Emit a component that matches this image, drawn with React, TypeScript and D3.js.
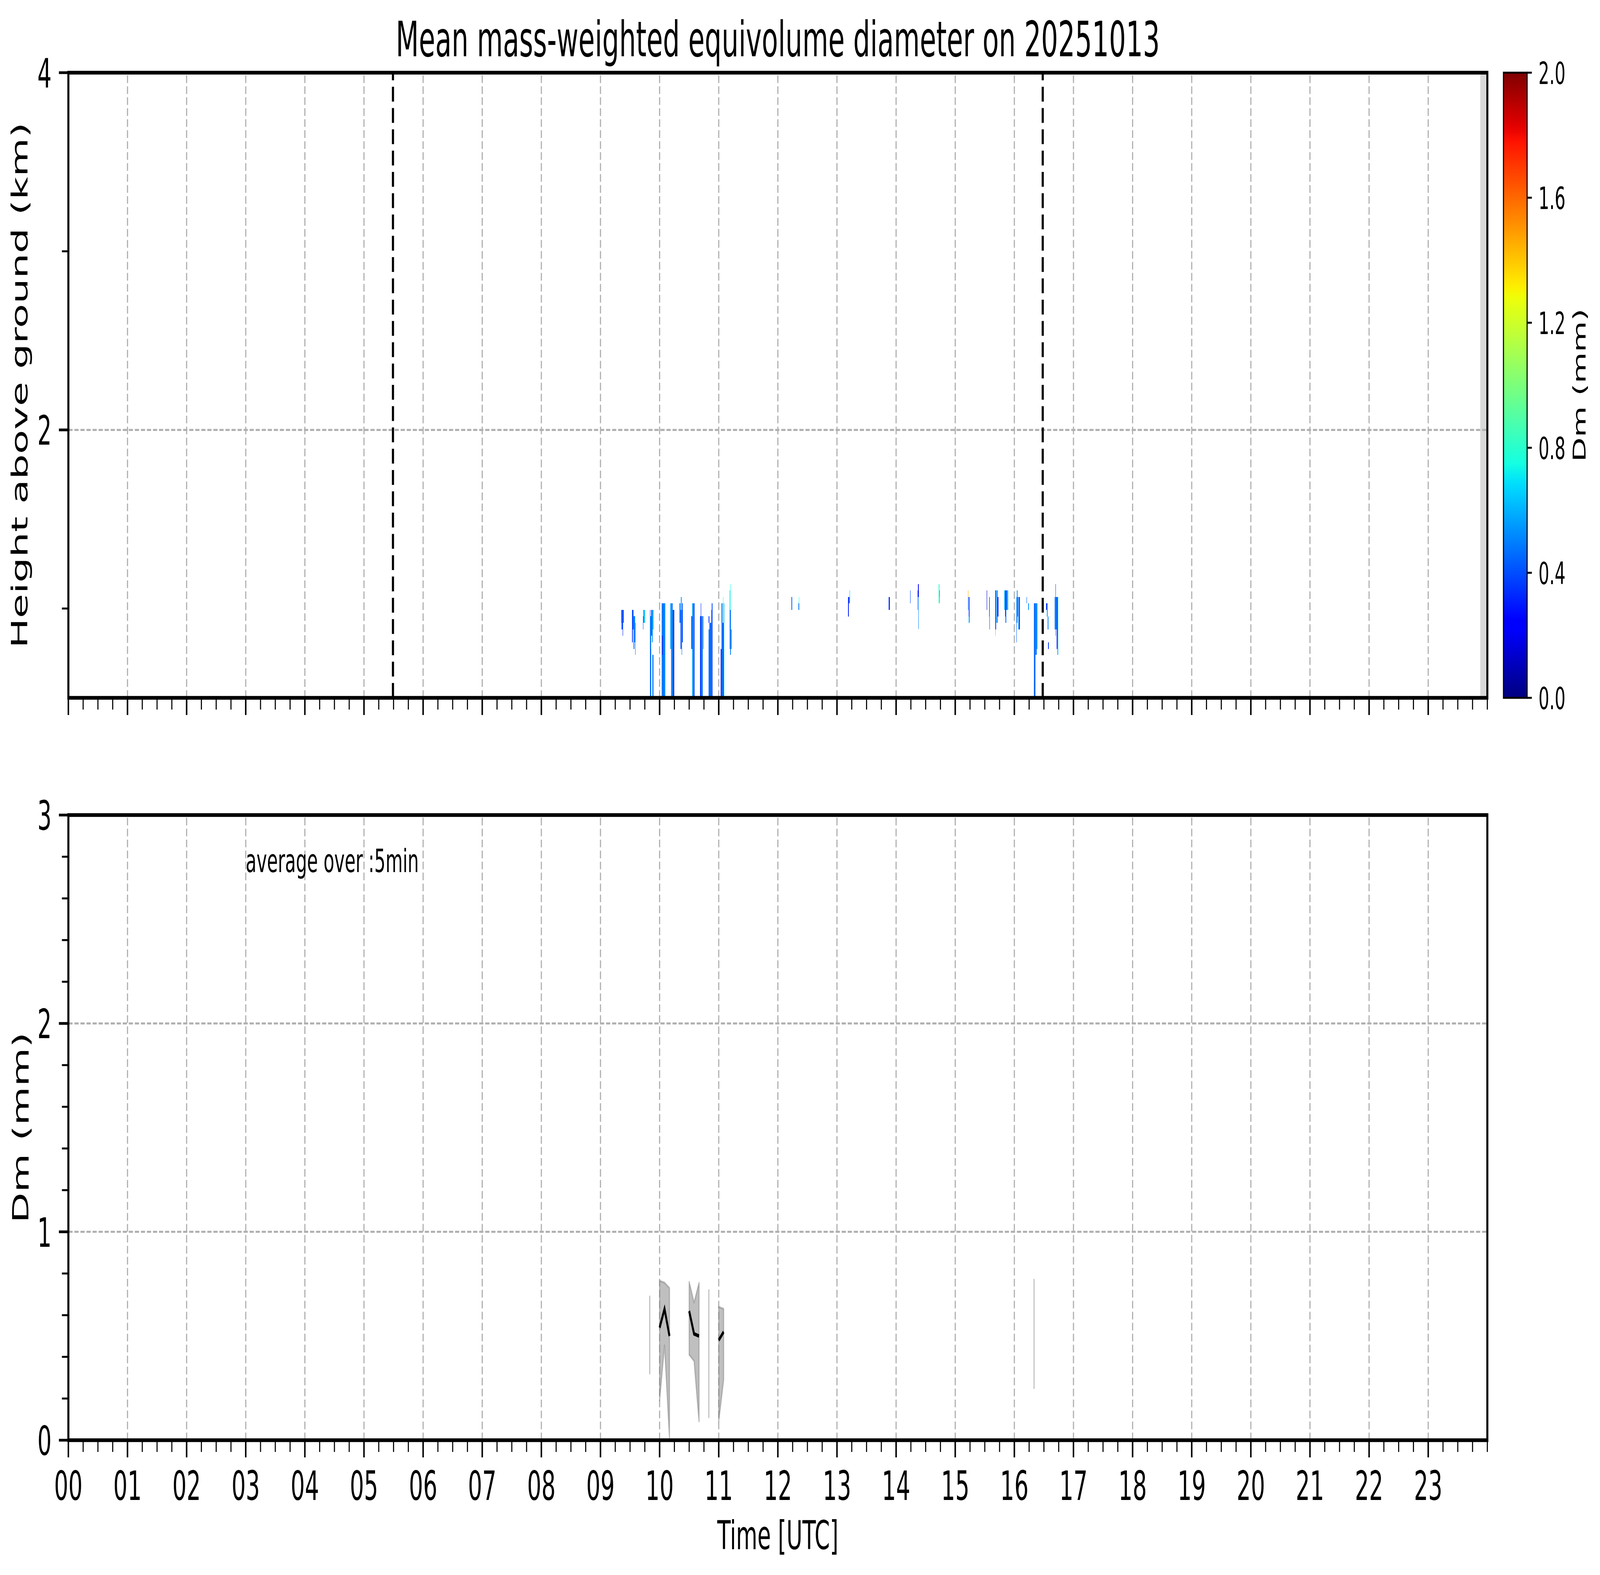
import React, { useEffect } from 'react';
import * as d3 from 'd3';

// ---------------- data ----------------
const TITLE = 'Mean mass-weighted equivolume diameter on 20251013';
const hourTicks = [0, 1, 2, 3, 4, 5, 6, 7, 8, 9, 10, 11, 12, 13, 14, 15, 16, 17, 18, 19, 20, 21, 22, 23];
const hourLabels = ['00', '01', '02', '03', '04', '05', '06', '07', '08', '09', '10', '11', '12', '13', '14', '15', '16', '17', '18', '19', '20', '21', '22', '23'];
const heightMajor = [2, 4];
const heightMinor = [1, 3];
const dmMajor = [0, 1, 2, 3];
const cbTicks = [0, 0.4, 0.8, 1.2, 1.6, 2.0];
const cbLabels = ['0.0', '0.4', '0.8', '1.2', '1.6', '2.0'];
const sunLines = [5.49, 16.48];
const missingBand = [23.88, 24];

// radar Dm cells: [t0 (h UTC), t1 (h UTC), bottom (km), top (km), Dm (mm)]
const radarCells: number[][] = [
  [8.870, 8.876, 0.883, 0.919, 0.50],
  [9.350, 9.358, 0.919, 0.992, 0.62],
  [9.358, 9.372, 0.883, 0.992, 0.45],
  [9.372, 9.380, 0.847, 0.992, 0.30],
  [9.380, 9.395, 0.919, 0.992, 0.50],
  [9.536, 9.548, 0.811, 0.992, 0.35],
  [9.548, 9.560, 0.883, 0.992, 0.50],
  [9.560, 9.572, 0.774, 0.957, 0.45],
  [9.572, 9.585, 0.811, 0.957, 0.55],
  [9.585, 9.595, 0.740, 0.919, 0.50],
  [9.716, 9.726, 0.883, 0.957, 0.45],
  [9.726, 9.740, 0.919, 0.992, 0.55],
  [9.740, 9.749, 0.919, 0.992, 0.65],
  [9.835, 9.846, 0.774, 0.992, 0.35],
  [9.846, 9.858, 0.774, 0.957, 0.55],
  [9.836, 9.858, 0.503, 0.774, 0.45],
  [9.858, 9.870, 0.847, 0.992, 0.42],
  [9.870, 9.884, 0.811, 0.992, 0.55],
  [9.884, 9.898, 0.883, 0.992, 0.62],
  [9.880, 9.898, 0.503, 0.740, 0.50],
  [9.889, 9.892, 0.740, 0.811, 0.15],
  [10.034, 10.044, 0.503, 1.029, 0.40],
  [10.044, 10.054, 0.503, 1.029, 0.55],
  [10.054, 10.064, 0.503, 1.029, 0.35],
  [10.064, 10.074, 0.503, 1.029, 0.50],
  [10.074, 10.084, 0.503, 1.029, 0.62],
  [10.084, 10.095, 0.503, 1.029, 0.45],
  [10.040, 10.048, 0.740, 0.847, 0.25],
  [10.183, 10.192, 0.774, 1.029, 0.58],
  [10.192, 10.202, 0.503, 1.029, 0.45],
  [10.202, 10.212, 0.503, 1.029, 0.60],
  [10.212, 10.222, 0.503, 1.029, 0.35],
  [10.222, 10.232, 0.503, 0.992, 0.50],
  [10.232, 10.244, 0.503, 0.992, 0.30],
  [10.332, 10.345, 0.919, 1.029, 0.62],
  [10.345, 10.352, 0.919, 1.029, 0.45],
  [10.352, 10.362, 0.774, 0.992, 0.35],
  [10.362, 10.372, 0.774, 1.064, 0.55],
  [10.372, 10.382, 0.740, 0.992, 0.45],
  [10.382, 10.393, 0.811, 1.029, 0.40],
  [10.535, 10.548, 0.774, 0.957, 0.30],
  [10.548, 10.560, 0.503, 1.029, 0.50],
  [10.560, 10.572, 0.503, 1.029, 0.60],
  [10.572, 10.582, 0.503, 1.029, 0.45],
  [10.582, 10.592, 0.503, 1.029, 0.35],
  [10.684, 10.694, 0.503, 0.957, 0.40],
  [10.694, 10.704, 0.503, 1.029, 0.30],
  [10.704, 10.716, 0.503, 0.957, 0.55],
  [10.716, 10.730, 0.503, 0.957, 0.45],
  [10.736, 10.744, 0.774, 0.957, 0.40],
  [10.829, 10.840, 0.503, 0.883, 0.45],
  [10.829, 10.840, 0.919, 0.957, 0.35],
  [10.840, 10.850, 0.503, 0.919, 0.60],
  [10.850, 10.862, 0.503, 0.919, 0.35],
  [10.862, 10.874, 0.503, 0.919, 0.55],
  [10.874, 10.884, 0.503, 0.992, 0.45],
  [10.884, 10.895, 0.503, 1.029, 0.38],
  [11.031, 11.044, 0.503, 0.774, 0.30],
  [11.044, 11.056, 0.503, 1.029, 0.45],
  [11.056, 11.068, 0.503, 1.029, 0.55],
  [11.068, 11.080, 0.503, 0.919, 0.35],
  [11.080, 11.095, 0.503, 1.029, 0.62],
  [11.074, 11.076, 1.029, 1.064, 0.85],
  [11.183, 11.195, 0.774, 0.992, 0.45],
  [11.195, 11.205, 0.740, 0.992, 0.50],
  [11.205, 11.217, 0.774, 0.883, 0.55],
  [11.186, 11.190, 0.992, 1.101, 0.65],
  [11.193, 11.197, 0.992, 1.137, 0.75],
  [12.232, 12.240, 0.992, 1.064, 0.45],
  [12.350, 12.356, 0.992, 1.029, 0.50],
  [12.356, 12.362, 1.029, 1.064, 0.78],
  [12.356, 12.362, 0.992, 1.029, 0.45],
  [13.185, 13.200, 0.956, 1.064, 0.30],
  [13.185, 13.190, 0.884, 0.956, 0.50],
  [13.200, 13.212, 1.029, 1.064, 0.50],
  [13.212, 13.222, 1.029, 1.101, 0.65],
  [13.873, 13.893, 0.992, 1.064, 0.35],
  [14.238, 14.242, 1.029, 1.101, 0.40],
  [14.360, 14.372, 0.992, 1.101, 0.45],
  [14.360, 14.366, 0.992, 1.029, 0.68],
  [14.372, 14.380, 1.064, 1.137, 0.20],
  [14.376, 14.380, 0.884, 1.064, 0.50],
  [14.720, 14.730, 1.029, 1.137, 0.80],
  [14.730, 14.740, 1.064, 1.101, 0.55],
  [14.730, 14.740, 1.029, 1.064, 0.72],
  [15.213, 15.222, 0.992, 1.064, 0.45],
  [15.213, 15.219, 1.064, 1.101, 1.45],
  [15.231, 15.243, 0.919, 1.064, 0.35],
  [15.231, 15.236, 0.919, 0.956, 0.65],
  [15.533, 15.537, 0.992, 1.101, 0.12],
  [15.574, 15.585, 0.956, 1.064, 0.55],
  [15.582, 15.586, 0.883, 0.956, 0.40],
  [15.680, 15.690, 0.883, 1.101, 0.35],
  [15.681, 15.684, 0.847, 0.883, 0.75],
  [15.690, 15.700, 0.919, 1.101, 0.60],
  [15.707, 15.720, 0.919, 1.101, 0.45],
  [15.720, 15.730, 0.956, 1.064, 0.30],
  [15.722, 15.725, 1.064, 1.137, 0.55],
  [15.831, 15.842, 0.992, 1.101, 0.60],
  [15.842, 15.852, 0.956, 1.101, 0.35],
  [15.852, 15.862, 0.919, 1.101, 0.45],
  [15.862, 15.872, 0.992, 1.101, 0.30],
  [15.872, 15.894, 0.992, 1.101, 0.62],
  [16.034, 16.044, 0.811, 1.064, 0.45],
  [16.044, 16.052, 0.919, 1.101, 0.55],
  [16.052, 16.062, 0.956, 1.064, 0.30],
  [16.067, 16.080, 0.883, 1.064, 0.50],
  [16.080, 16.094, 0.883, 1.064, 0.40],
  [16.092, 16.094, 0.774, 0.883, 0.70],
  [16.205, 16.210, 1.029, 1.064, 0.45],
  [16.231, 16.243, 0.992, 1.029, 0.55],
  [16.239, 16.241, 0.883, 0.919, 0.50],
  [16.332, 16.340, 0.503, 1.029, 0.30],
  [16.340, 16.348, 0.503, 1.029, 0.48],
  [16.348, 16.356, 0.503, 1.029, 0.56],
  [16.356, 16.362, 0.740, 1.029, 0.42],
  [16.362, 16.368, 0.811, 0.992, 0.55],
  [16.368, 16.378, 0.740, 1.029, 0.50],
  [16.378, 16.392, 0.774, 1.029, 0.62],
  [16.332, 16.340, 0.503, 0.594, 0.15],
  [16.537, 16.547, 0.992, 1.029, 0.30],
  [16.547, 16.565, 0.956, 1.029, 0.55],
  [16.565, 16.577, 0.883, 0.956, 0.50],
  [16.570, 16.580, 0.774, 0.811, 0.35],
  [16.580, 16.584, 0.503, 0.883, 0.45],
  [16.683, 16.693, 0.883, 1.064, 0.50],
  [16.693, 16.705, 0.847, 1.101, 0.45],
  [16.698, 16.703, 1.101, 1.137, 0.40],
  [16.705, 16.718, 0.883, 1.064, 0.55],
  [16.718, 16.728, 0.774, 1.064, 0.35],
  [16.728, 16.744, 0.740, 1.064, 0.60],
];

// 5-min averaged surface Dm: time (h), mean, mean-std, mean+std
const dmTimes = [9.833, 10.0, 10.083, 10.167, 10.5, 10.583, 10.667, 10.833, 11.0, 11.083, 16.333];
const dmMean = [0.50, 0.54, 0.63, 0.50, 0.62, 0.51, 0.50, 0.42, 0.48, 0.52, 0.51];
const dmLow = [0.32, 0.19, 0.455, 0.01, 0.41, 0.38, 0.09, 0.11, 0.09, 0.29, 0.25];
const dmHigh = [0.69, 0.765, 0.756, 0.73, 0.76, 0.66, 0.755, 0.72, 0.64, 0.63, 0.77];

// ---------------- helpers ----------------
const jr = d3.scaleLinear().domain([0, 0.35, 0.66, 0.89, 1]).range([0, 0, 1, 1, 0.5]).clamp(true);
const jg = d3.scaleLinear().domain([0, 0.125, 0.375, 0.64, 0.91, 1]).range([0, 0, 1, 1, 0, 0]).clamp(true);
const jb = d3.scaleLinear().domain([0, 0.11, 0.34, 0.65, 1]).range([0.5, 1, 1, 0, 0]).clamp(true);
const jet = (t: number) => d3.rgb(jr(t) * 255, jg(t) * 255, jb(t) * 255).formatHex();

const FONT = 'DejaVu Sans';
const W = 7442, H = 4031;
const L = 318, R = 6918;
const T1 = 186, B1 = 1786, T2 = 2086, B2 = 3686;
const CBX0 = 6993, CBX1 = 7103;
const GRID = '#b0b0b0';

export default function App() {
  useEffect(() => {
    document.body.style.margin = '0';
    document.body.style.overflow = 'hidden';
    document.documentElement.style.overflow = 'hidden';
  }, []);

  const x = d3.scaleLinear().domain([0, 24]).range([L, R]);
  const y1 = d3.scaleLinear().domain([0.5, 4]).range([B1, T1]);
  const y2 = d3.scaleLinear().domain([0, 3]).range([B2, T2]);
  const cb = d3.scaleLinear().domain([0, 2]).range([B1, T1]);
  const norm = d3.scaleLinear().domain([0, 2]).range([0, 1]).clamp(true);
  const colorOf = (v: number) => jet(norm(v));

  const minorX = d3.range(0, 24 * 4 + 1).map((i) => i / 4).filter((v) => v % 1 !== 0 || v === 24);
  const minorDm = d3.range(0, 16).map((i) => i * 0.2).filter((v) => Math.abs(v - Math.round(v)) > 1e-6);

  // bottom panel groups (break where there is a gap in the 5-min series)
  const pts = dmTimes.map((t, i) => ({ t, m: dmMean[i], lo: dmLow[i], hi: dmHigh[i] }));
  const groups: typeof pts[] = [];
  let cur: typeof pts = [];
  pts.forEach((p, i) => {
    if (i > 0 && p.t - pts[i - 1].t > 0.09) { groups.push(cur); cur = []; }
    cur.push(p);
  });
  groups.push(cur);
  const area = d3.area<any>().x((d) => x(d.t)).y0((d) => y2(d.lo)).y1((d) => y2(d.hi));
  const line = d3.line<any>().x((d) => x(d.t)).y((d) => y2(d.m));

  const gradStops = d3.range(0, 65).map((i) => i / 64);

  const xTicks = (bottom: number, labels: boolean) => (
    <g>
      {hourTicks.map((h, i) => (
        <g key={'M' + h}>
          <line x1={x(h)} x2={x(h)} y1={bottom} y2={bottom + 44} stroke="#000" strokeWidth={7} />
          {labels && (
            <text x={x(h)} y={3839} fontSize={104} textAnchor="middle">{hourLabels[i]}</text>
          )}
        </g>
      ))}
      {minorX.map((m) => (
        <line key={'m' + m} x1={x(m)} x2={x(m)} y1={bottom} y2={bottom + 30} stroke="#000" strokeWidth={5} />
      ))}
    </g>
  );

  const vGrid = (top: number, bottom: number) =>
    hourTicks.filter((h) => h > 0).map((h) => (
      <line key={'g' + h} x1={x(h)} x2={x(h)} y1={bottom} y2={top} stroke={GRID} strokeWidth={5.3} strokeDasharray="19.6 8.5" />
    ));

  return (
    <svg
      viewBox={`0 0 ${W} ${H}`}
      preserveAspectRatio="none"
      style={{ position: 'absolute', left: 0, top: 0, width: '100vw', height: '100vh', display: 'block', background: '#fff' }}
      fontFamily={FONT}
    >
      <rect x={0} y={0} width={W} height={H} fill="#fff" />
      <defs>
        <linearGradient id="jetGrad" x1="0" y1="1" x2="0" y2="0">
          {gradStops.map((s) => (
            <stop key={s} offset={s} stopColor={jet(s)} />
          ))}
        </linearGradient>
      </defs>

      {/* title */}
      <text x={(L + R) / 2} y={144} fontSize={124} textAnchor="middle">{TITLE}</text>

      {/* ---------- top panel ---------- */}
      <rect x={x(missingBand[0])} y={T1} width={x(missingBand[1]) - x(missingBand[0])} height={B1 - T1} fill="#d9d9d9" />
      {vGrid(T1, B1)}
      {heightMajor.filter((v) => v < 4).map((v) => (
        <line key={'hg' + v} x1={L} x2={R} y1={y1(v)} y2={y1(v)} stroke={GRID} strokeWidth={5.3} strokeDasharray="19.6 8.5" />
      ))}
      <g shapeRendering="crispEdges">
        {radarCells.map((c, i) => (
          <rect key={'c' + i} x={x(c[0])} width={Math.max(1, x(c[1]) - x(c[0]))} y={y1(c[3])} height={y1(c[2]) - y1(c[3])} fill={colorOf(c[4])} />
        ))}
      </g>
      {sunLines.map((s) => (
        <line key={'s' + s} x1={x(s)} x2={x(s)} y1={B1} y2={T1} stroke="#000" strokeWidth={10} strokeDasharray="38 16.5" />
      ))}
      <rect x={L} y={T1} width={R - L} height={B1 - T1} fill="none" stroke="#000" strokeWidth={9.5} />
      {xTicks(B1, false)}
      {heightMajor.map((v) => (
        <g key={'hy' + v}>
          <line x1={L - 44} x2={L} y1={y1(v)} y2={y1(v)} stroke="#000" strokeWidth={7} />
          <text x={240} y={y1(v) + 38} fontSize={104} textAnchor="end">{v}</text>
        </g>
      ))}
      {heightMinor.map((v) => (
        <line key={'hm' + v} x1={L - 30} x2={L} y1={y1(v)} y2={y1(v)} stroke="#000" strokeWidth={5} />
      ))}
      <text transform={`translate(128,${(T1 + B1) / 2}) rotate(-90)`} fontSize={102} textAnchor="middle">Height above ground (km)</text>

      {/* colorbar */}
      <rect x={CBX0} y={T1} width={CBX1 - CBX0} height={B1 - T1} fill="url(#jetGrad)" stroke="#000" strokeWidth={5} />
      {cbTicks.map((v, i) => (
        <g key={'cb' + v}>
          <line x1={CBX1} x2={CBX1 + 22} y1={cb(v)} y2={cb(v)} stroke="#000" strokeWidth={5} />
          <text x={7156} y={cb(v) + 29} fontSize={79}>{cbLabels[i]}</text>
        </g>
      ))}
      <text transform={`translate(7375,${(T1 + B1) / 2}) rotate(-90)`} fontSize={82} textAnchor="middle">Dm (mm)</text>

      {/* ---------- bottom panel ---------- */}
      {vGrid(T2, B2)}
      {dmMajor.filter((v) => v > 0 && v < 3).map((v) => (
        <line key={'dg' + v} x1={L} x2={R} y1={y2(v)} y2={y2(v)} stroke={GRID} strokeWidth={5.3} strokeDasharray="19.6 8.5" />
      ))}
      {groups.map((g, i) => (
        <path key={'a' + i} d={area(g) || ''} fill="#808080" fillOpacity={0.5} stroke="#808080" strokeOpacity={0.5} strokeWidth={5} strokeLinejoin="round" />
      ))}
      {groups.filter((g) => g.length > 1).map((g, i) => (
        <path key={'l' + i} d={line(g) || ''} fill="none" stroke="#000" strokeWidth={9} />
      ))}
      <text x={x(3)} y={y2(2.726)} fontSize={82}>average over :5min</text>
      <rect x={L} y={T2} width={R - L} height={B2 - T2} fill="none" stroke="#000" strokeWidth={9.5} />
      {xTicks(B2, true)}
      {dmMajor.map((v) => (
        <g key={'dy' + v}>
          <line x1={L - 44} x2={L} y1={y2(v)} y2={y2(v)} stroke="#000" strokeWidth={7} />
          <text x={240} y={y2(v) + 38} fontSize={104} textAnchor="end">{v}</text>
        </g>
      ))}
      {minorDm.map((v) => (
        <line key={'dm' + v} x1={L - 30} x2={L} y1={y2(v)} y2={y2(v)} stroke="#000" strokeWidth={5} />
      ))}
      <text transform={`translate(132,${(T2 + B2) / 2}) rotate(-90)`} fontSize={102} textAnchor="middle">Dm (mm)</text>
      <text x={(L + R) / 2} y={3965} fontSize={102} textAnchor="middle">Time [UTC]</text>
    </svg>
  );
}
